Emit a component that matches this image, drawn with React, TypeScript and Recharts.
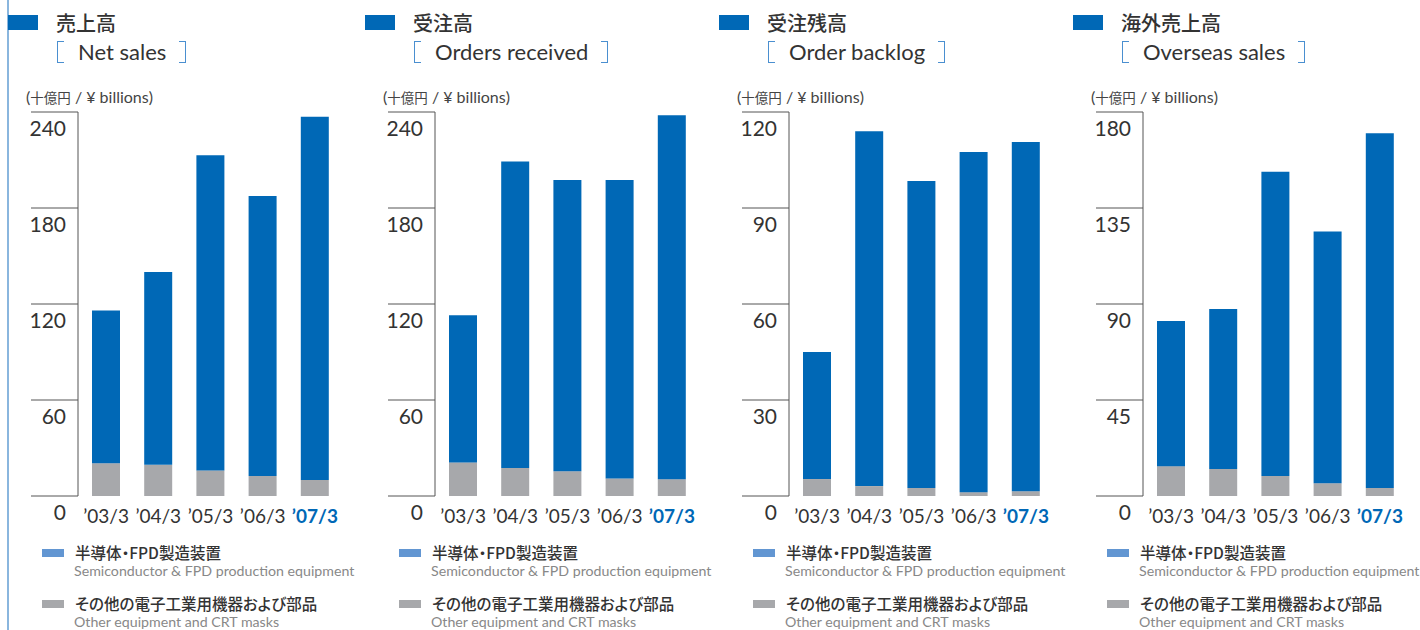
import React from "react";
import { BarChart, Bar, XAxis, YAxis } from "recharts";

const YEARS = ["’03/3", "’04/3", "’05/3", "’06/3", "’07/3"];

// 売上高
const NET_SALES_SEMI = [95.5, 120.5, 197, 175, 227];
const NET_SALES_OTHER = [20.5, 19.5, 16, 12.5, 10];
const NET_SALES_TICKS = [0, 60, 120, 180, 240];

// 受注高
const ORDERS_SEMI = [92, 191.5, 182, 186.5, 227.5];
const ORDERS_OTHER = [21, 17.5, 15.5, 11, 10.5];
const ORDERS_TICKS = [0, 60, 120, 180, 240];

// 受注残高
const BACKLOG_SEMI = [39.7, 110.9, 95.9, 106.3, 109.1];
const BACKLOG_OTHER = [5.3, 3.1, 2.5, 1.2, 1.5];
const BACKLOG_TICKS = [0, 30, 60, 90, 120];

// 海外売上高
const OVERSEAS_SEMI = [68, 75, 142.6, 118, 166.2];
const OVERSEAS_OTHER = [14, 12.7, 9.4, 6, 3.8];
const OVERSEAS_TICKS = [0, 45, 90, 135, 180];

const BLUE = "#0068b6";
const GRAY = "#a7a8ab";
const LEGEND_BLUE = "#6296d2";
const BRACKET = "#4a8fd0";
const TEXT = "#333";
const EN_FONT = "Lato, 'Noto Sans', sans-serif";
const JP_FONT = "'Noto Sans CJK JP', sans-serif";

const AXIS_X = 78;

const YTick = (props: any) => {
  const { y, payload } = props;
  return (
    <g>
      <line x1={AXIS_X - 47} x2={AXIS_X} y1={y} y2={y} stroke="#555" strokeWidth={1} />
      <text
        x={AXIS_X - 12}
        y={y + 15}
        textAnchor="end"
        dominantBaseline="central"
        fontSize={21}
        fontFamily={EN_FONT}
        fill={TEXT}
      >
        {payload.value}
      </text>
    </g>
  );
};

const XTick = (props: any) => {
  const { x, y, payload, index } = props;
  const last = index === YEARS.length - 1;
  return (
    <text
      x={x}
      y={y + 11}
      textAnchor="middle"
      dominantBaseline="central"
      fontSize={19}
      fontFamily={EN_FONT}
      fontWeight={last ? 700 : 400}
      fill={last ? BLUE : TEXT}
    >
      {payload.value}
    </text>
  );
};

const Bracket: React.FC<{ side: "l" | "r" }> = ({ side }) => (
  <div
    style={{
      width: 7,
      height: 22,
      border: `1.5px solid ${BRACKET}`,
      borderLeftWidth: side === "l" ? 1.5 : 0,
      borderRightWidth: side === "r" ? 1.5 : 0,
      boxSizing: "border-box",
    }}
  />
);

type PanelProps = {
  left: number;
  jp: string;
  en: string;
  semi: number[];
  other: number[];
  ticks: number[];
};

const Panel: React.FC<PanelProps> = ({ left, jp, en, semi, other, ticks }) => {
  const data = YEARS.map((year, i) => ({ year, semi: semi[i], other: other[i] }));
  return (
    <div style={{ position: "absolute", left, top: 0, width: 355, height: 630 }}>
      <div style={{ position: "absolute", left: 8, top: 15, width: 30, height: 15, background: BLUE }} />
      <div
        style={{
          position: "absolute",
          left: 56,
          top: 9,
          fontSize: 20,
          fontWeight: 500,
          fontFamily: JP_FONT,
          color: TEXT,
          lineHeight: "28px",
        }}
      >
        {jp}
      </div>
      <div style={{ position: "absolute", left: 57, top: 41, display: "flex", alignItems: "center" }}>
        <Bracket side="l" />
        <span
          style={{
            fontFamily: EN_FONT,
            fontSize: 22,
            color: TEXT,
            margin: "0 13px 0 14px",
            lineHeight: "22px",
          }}
        >
          {en}
        </span>
        <Bracket side="r" />
      </div>
      <div
        style={{
          position: "absolute",
          left: 26,
          top: 87,
          fontFamily: EN_FONT,
          fontSize: 16,
          color: "#444",
          whiteSpace: "nowrap",
        }}
      >
        (<span style={{ fontFamily: JP_FONT, fontSize: 13.5 }}>十億円</span> / ¥ billions)
      </div>
      <div style={{ position: "absolute", left: 0, top: 0 }}>
        <BarChart width={355} height={530} data={data} margin={{ top: 112, right: 14, left: 0, bottom: 4 }}>
          <XAxis
            dataKey="year"
            axisLine={false}
            tickLine={false}
            height={30}
            padding={{ left: 2, right: 0 }}
            tick={<XTick />}
            interval={0}
          />
          <YAxis
            width={78}
            domain={[0, ticks[ticks.length - 1]]}
            ticks={ticks}
            interval={0}
            axisLine={{ stroke: "#555", strokeWidth: 1 }}
            tickLine={false}
            tick={<YTick />}
          />
          <Bar dataKey="other" stackId="a" fill={GRAY} barSize={28} isAnimationActive={false} />
          <Bar dataKey="semi" stackId="a" fill={BLUE} barSize={28} isAnimationActive={false} />
        </BarChart>
      </div>
      {[
        { c: LEGEND_BLUE, jp: "半導体・FPD製造装置", en: "Semiconductor & FPD production equipment", top: 544 },
        { c: GRAY, jp: "その他の電子工業用機器および部品", en: "Other equipment and CRT masks", top: 595 },
      ].map((l) => (
        <div key={l.jp} style={{ position: "absolute", left: 42, top: l.top, whiteSpace: "nowrap" }}>
          <div style={{ position: "absolute", left: 0, top: 5, width: 22, height: 8, background: l.c }} />
          <div
            style={{
              position: "absolute",
              left: 33,
              top: -2,
              fontFamily: JP_FONT,
              fontSize: 15.5,
              fontWeight: 500,
              fontFeatureSettings: "'palt'",
              color: TEXT,
              lineHeight: "20px",
            }}
          >
            {l.jp}
          </div>
          <div
            style={{
              position: "absolute",
              left: 32,
              top: 18,
              fontFamily: EN_FONT,
              fontSize: 14.2,
              color: "#888",
              lineHeight: "17px",
            }}
          >
            {l.en}
          </div>
        </div>
      ))}
    </div>
  );
};

export default function App() {
  return (
    <div
      style={{
        position: "fixed",
        left: 0,
        top: 0,
        width: 1420,
        height: 630,
        background: "#fff",
        overflow: "hidden",
      }}
    >
      <div style={{ position: "absolute", left: 7, top: 0, width: 2, height: 630, background: "#8ab6de" }} />
      <Panel left={0} jp="売上高" en="Net sales" semi={NET_SALES_SEMI} other={NET_SALES_OTHER} ticks={NET_SALES_TICKS} />
      <Panel left={357} jp="受注高" en="Orders received" semi={ORDERS_SEMI} other={ORDERS_OTHER} ticks={ORDERS_TICKS} />
      <Panel left={711} jp="受注残高" en="Order backlog" semi={BACKLOG_SEMI} other={BACKLOG_OTHER} ticks={BACKLOG_TICKS} />
      <Panel left={1065} jp="海外売上高" en="Overseas sales" semi={OVERSEAS_SEMI} other={OVERSEAS_OTHER} ticks={OVERSEAS_TICKS} />
    </div>
  );
}
